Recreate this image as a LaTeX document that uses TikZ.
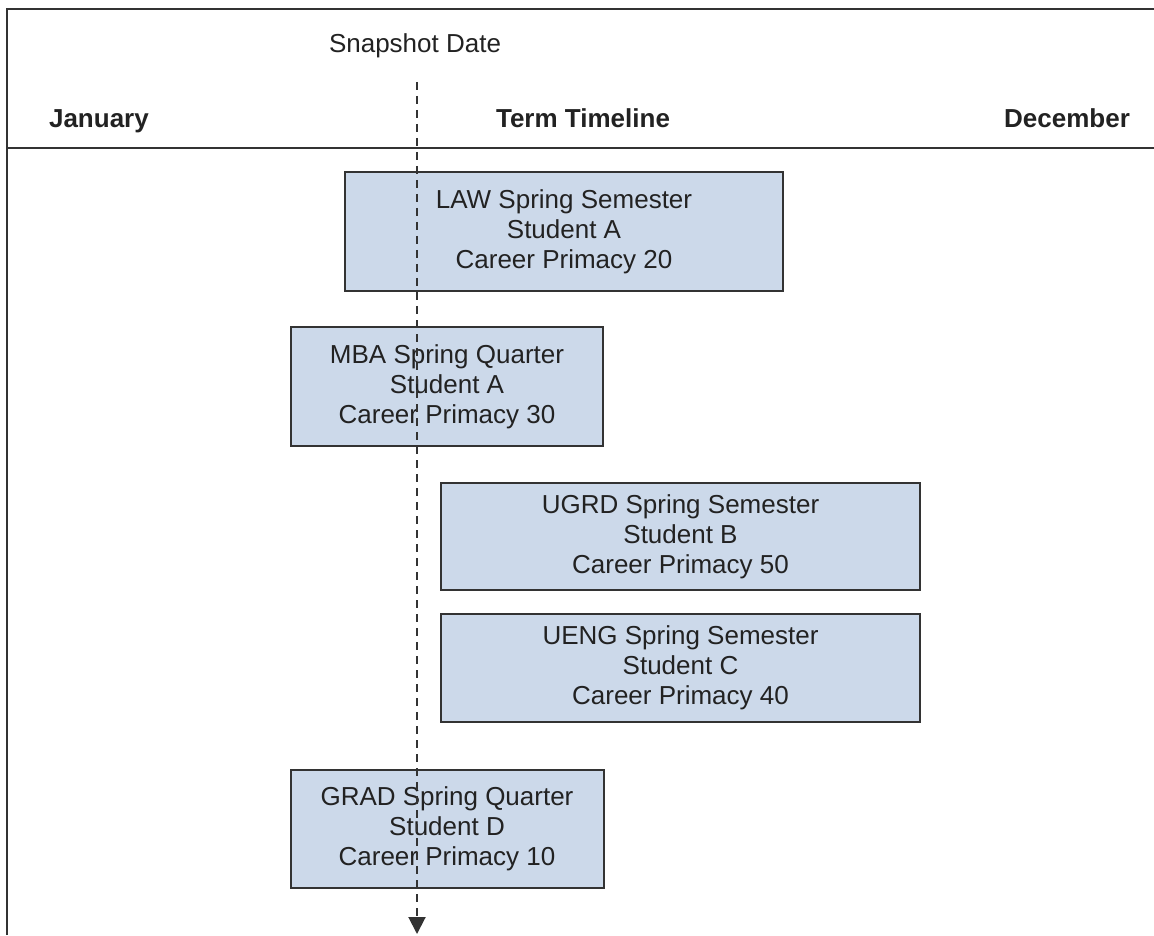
\documentclass[tikz,border=0pt]{standalone}
\usepackage{fontspec}
\setmainfont{Liberation Sans}
\definecolor{termfill}{RGB}{204,217,234}
\definecolor{termline}{RGB}{51,51,51}
\definecolor{termtext}{RGB}{34,34,34}
\usetikzlibrary{arrows.meta}

\begin{document}
\begin{tikzpicture}[x=0.5pt, y=-0.5pt,
  termbox/.style={draw=termline, fill=termfill, line width=1pt, inner sep=0pt, align=center, font=\fontsize{13}{15}\selectfont, text=termtext},
  headtext/.style={font=\fontsize{13}{15}\selectfont\bfseries, text=termtext, anchor=base},
  snapline/.style={termline, line width=1pt, dash pattern=on 4pt off 3pt, -{Triangle[length=8.5pt,width=8.5pt]}}]
  \useasboundingbox (0,0) rectangle (1154,935);

  % Frame
  \draw[termline, line width=1pt] (7,935) -- (7,9) -- (1154,9);

  % Timeline header
  \node[font=\fontsize{13}{15}\selectfont, text=termtext, anchor=base] (snap) at (415,53) {Snapshot Date};
  \node[headtext, anchor=base west] (jan) at (42,128) {January};
  \node[headtext] (term) at (583,128) {Term Timeline};
  \node[headtext, anchor=base east] (dec) at (1137,128) {December};
  \coordinate (axisL) at (7,148);
  \coordinate (axisR) at (1154,148);
  \draw[termline, line width=1.2pt] (axisL) -- (axisR);

  % LAW box
  \node[termbox, minimum width=219pt, minimum height=59.5pt] (law) at (564,231.5) {LAW Spring Semester\\Student A\\Career Primacy 20};

  % MBA box
  \node[termbox, minimum width=156pt, minimum height=59.5pt] (mba) at (447,386.5) {MBA Spring Quarter\\Student A\\Career Primacy 30};

  % UGRD box
  \node[termbox, minimum width=239.5pt, minimum height=53.5pt] (ugrd) at (680.5,536.5) {UGRD Spring Semester\\Student B\\Career Primacy 50};

  % UENG box
  \node[termbox, minimum width=239.5pt, minimum height=54pt] (ueng) at (680.5,668) {UENG Spring Semester\\Student C\\Career Primacy 40};

  % GRAD box
  \node[termbox, minimum width=156.5pt, minimum height=59pt] (grad) at (447,829) {GRAD Spring Quarter\\Student D\\Career Primacy 10};

  % Snapshot line
  \coordinate (snaptop) at (417,82);
  \coordinate (snapend) at (417,934);
  \draw[snapline] (snaptop) -- (snapend);
\end{tikzpicture}
\end{document}
